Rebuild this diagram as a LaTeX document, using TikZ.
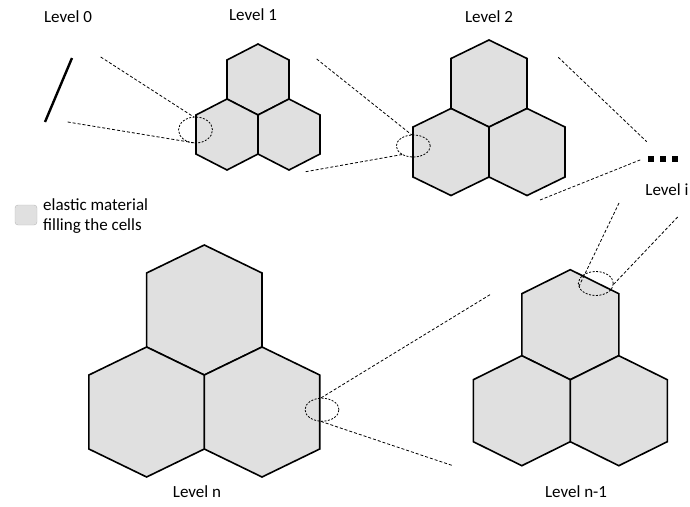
\documentclass[tikz,border=0pt]{standalone}
\usepackage{fontspec}
\setmainfont{Carlito}
\usepackage{tikz}
\usetikzlibrary{shapes.geometric}

\definecolor{cellgray}{RGB}{224,224,224}

% one cell: centre x, centre y, half width, corner offset, side
\newcommand{\hexcell}[5]{%
  \draw[cell] (#1,#2) ++(0,-#5/2-#4) -- ++(#3,#4) -- ++(0,#5) -- ++(-#3,#4)
    -- ++(-#3,-#4) -- ++(0,-#5) -- cycle;}
% three cells round the junction point (#1,#2)
\newcommand{\cluster}[5]{%
  \hexcell{#1}{#2-#4-#5/2}{#3}{#4}{#5}
  \hexcell{#1-#3}{#2+#5/2}{#3}{#4}{#5}
  \hexcell{#1+#3}{#2+#5/2}{#3}{#4}{#5}}

\begin{document}
\begin{tikzpicture}[
    x=1pt,y=-1pt,font=\fontsize{17}{20}\selectfont,
    cell/.style={draw,black,fill=cellgray,line width=1.6pt,line join=miter},
    zoomline/.style={draw,black,line width=0.8pt,dash pattern=on 3pt off 2pt},
    ring/.style={ellipse,draw,black,line width=0.8pt,dash pattern=on 2pt off 1.5pt,
      inner sep=0pt,outer sep=0pt},
    sq/.style={fill,black,inner sep=0pt,minimum size=6pt}
    ]
    \useasboundingbox (0,0) rectangle (690,506);

    % levels
    \draw[black,line width=2.4pt] (72,58) -- (45,122);
    \cluster{258}{115}{31}{16}{39}
    \cluster{489}{127}{38}{18.5}{50}
    \cluster{570.3}{379.7}{48.5}{24}{62}
    \cluster{204.3}{375}{57.7}{28}{74}
    \foreach \i in {0,1,2}
      \node[sq] (dot\i) at (651+12*\i,158.5) {};

    % labels
    \node (lvl0) at (68,17) {Level 0};
    \node (lvl1) at (253,15) {Level 1};
    \node (lvl2) at (489,17) {Level 2};
    \node (lvli) at (667,190) {Level i};
    \node (lvln) at (197,492) {Level n};
    \node (lvlm) at (576,492) {Level n-1};

    % legend
    \node[draw=gray!55,fill=cellgray,rounded corners=3pt,minimum width=22pt,
      minimum height=20pt,inner sep=0pt] (legbox) at (26,215) {};
    \node[anchor=west,align=left,inner sep=0pt] (legtxt) at (43,216.5)
      {elastic material\\filling the cells};

    % zoom rings
    \node[ring,minimum width=34pt,minimum height=26pt] (ring1) at (195.5,130) {};
    \node[ring,minimum width=34pt,minimum height=22pt] (ring2) at (413.3,146) {};
    \node[ring,minimum width=35pt,minimum height=24pt] (ring3) at (595.8,283.5) {};
    \node[ring,minimum width=34pt,minimum height=23pt] (ringn) at (322,409.7) {};

    % zoom lines
    \coordinate (z0a) at (100.7,57);
    \coordinate (z0b) at (67.7,122);
    \coordinate (z1a) at (316.7,59);
    \coordinate (z1b) at (305.7,171.7);
    \coordinate (z2a) at (558.3,57.3);
    \coordinate (z2b) at (540,200);
    \coordinate (zia) at (646.7,141.7);
    \coordinate (zib) at (641.7,159.3);
    \coordinate (zic) at (619,203);
    \coordinate (zid) at (677.7,217);
    \coordinate (zma) at (490,294.7);
    \coordinate (zmb) at (451.7,465.3);
    \draw[zoomline] (z0a) -- (ring1.97);
    \draw[zoomline] (z0b) -- (ring1.268);
    \draw[zoomline] (z1a) -- (ring2.97);
    \draw[zoomline] (z1b) -- (ring2.218);
    \draw[zoomline] (z2a) -- (zia);
    \draw[zoomline] (z2b) -- (zib);
    \draw[zoomline] (zic) -- (ring3.190);
    \draw[zoomline] (zid) -- (ring3.356);
    \draw[zoomline] (zma) -- (ringn.98);
    \draw[zoomline] (zmb) -- (ringn.260);
  \end{tikzpicture}
\end{document}
